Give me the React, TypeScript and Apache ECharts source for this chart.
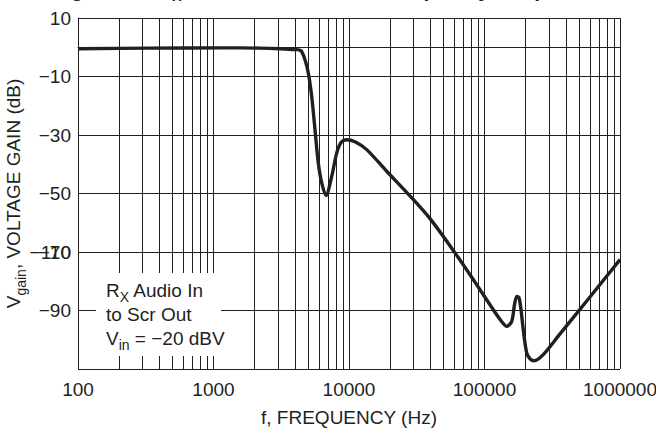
import React, { useEffect, useRef } from 'react';
import * as echarts from 'echarts';

const freqHz = [100, 340, 1117, 2204, 3096, 3995, 4423, 4734, 5008, 5305, 5612, 5934, 6289, 6766, 7451, 8114, 8730, 9617, 11075, 13507, 18975, 27389, 39620, 60580, 85100, 119500, 132400, 145900, 158800, 166500, 173000, 179700, 185900, 193300, 204800, 216700, 231900, 271500, 360700, 479000, 711900, 1000000];
const gainDb = [-0.5, -0.3, -0.2, -0.3, -0.5, -0.8, -1.2, -4.3, -8.8, -16.8, -28.2, -39.6, -46.4, -50.7, -44.2, -36.2, -32.6, -31.6, -32.3, -35.0, -42.4, -50.2, -58.6, -70.3, -80.3, -90.6, -93.5, -95.4, -93.7, -88.0, -85.2, -85.6, -89.7, -96.6, -104.5, -106.5, -107.2, -105.1, -98.0, -91.0, -81.1, -72.6];

const decadeStarts = [100, 1000, 10000, 100000];
const minorSteps = [2, 3, 4, 5, 6, 7, 8, 9];
const yTickMin = -110;
const yTickMax = 10;
const yTickStep = 20;

const FONT = '"Liberation Sans Narrow", "Arial Narrow", "Liberation Sans", Arial, sans-serif';
const INK = '#231f20';
const FS = 19;

export default function App() {
  const ref = useRef<HTMLDivElement>(null);
  useEffect(() => {
    const chart = echarts.init(ref.current!, null, { renderer: 'svg' });
    const data = freqHz.map((f, i) => [f, gainDb[i]]);
    const minorLines: any[] = [];
    decadeStarts.forEach((d) => minorSteps.forEach((m) => minorLines.push({ xAxis: d * m })));
    const fmtY = (v: number) => (v === yTickMin ? '' : String(v).replace('-', '\u2212'));
    chart.setOption({
      animation: false,
      textStyle: { fontFamily: FONT },
      grid: { left: 78, right: 36, top: 18, bottom: 62, containLabel: false, outerBoundsMode: 'none' },
      xAxis: {
        type: 'log',
        logBase: 10,
        min: 100,
        max: 1000000,
        name: 'f, FREQUENCY (Hz)',
        nameLocation: 'middle',
        nameGap: 39,
        nameTextStyle: { fontSize: FS, color: INK, fontFamily: FONT },
        axisLine: { show: true, lineStyle: { color: INK, width: 1 } },
        axisTick: { show: false },
        axisLabel: { fontSize: FS, color: INK, margin: 11, fontFamily: FONT, formatter: (v: number) => String(Math.round(v)) },
        splitLine: { show: true, lineStyle: { color: INK, width: 1 } },
      },
      yAxis: [
        {
          type: 'value',
          min: yTickMin,
          max: yTickMax,
          interval: yTickStep,
          position: 'left',
          name: '{n|V}{s|gain}{n|, VOLTAGE GAIN (dB)}',
          nameLocation: 'middle',
          nameGap: 46,
          nameTextStyle: {
            rich: {
              n: { fontSize: FS, color: INK, fontFamily: FONT, lineHeight: 24 },
              s: { fontSize: 14, color: INK, fontFamily: FONT, lineHeight: 10, padding: [14, 0, 0, 0] },
            },
          },
          axisLine: { show: true, lineStyle: { color: INK, width: 1 } },
          axisTick: { show: false },
          axisLabel: { fontSize: FS, color: INK, margin: 7, fontFamily: FONT, formatter: fmtY },
          splitLine: { show: true, lineStyle: { color: INK, width: 1 } },
        },
        {
          type: 'value',
          min: yTickMin,
          max: yTickMax,
          interval: yTickStep,
          position: 'left',
          offset: 0,
          axisLine: { show: false },
          axisTick: { show: false },
          splitLine: { show: false },
          axisLabel: { fontSize: FS, color: INK, margin: 7, fontFamily: FONT, formatter: (v: number) => (v === -70 ? '\u2212110' : '') },
        },
      ],
      series: [
        {
          type: 'line',
          data,
          showSymbol: false,
          lineStyle: { opacity: 0 },
          silent: true,
          z: 1,
          markLine: {
            silent: true,
            symbol: ['none', 'none'],
            label: { show: false },
            lineStyle: { color: INK, width: 1, type: 'solid' },
            data: minorLines,
          },
        },
        {
          type: 'line',
          data,
          showSymbol: false,
          smooth: 0.3,
          lineStyle: { color: INK, width: 3.4 },
          z: 5,
        },
      ],
      graphic: [
        {
          type: 'text',
          x: 52,
          y: 1,
          z: 101,
          style: {
            text: '{b|Figure 17. R}{bs|X}{b| Audio In to Scr Out Frequency Response}',
            textVerticalAlign: 'bottom',
            rich: {
              b: { fontSize: 21, fontWeight: 'bold', fontFamily: FONT, fill: INK, color: INK, lineHeight: 24 },
              bs: { fontSize: 14, fontWeight: 'bold', fontFamily: FONT, fill: INK, color: INK, lineHeight: 10, padding: [14, 0, 0, 0] },
            },
          },
        },
        {
          type: 'rect',
          z: 100,
          shape: { x: 96, y: 273, width: 125, height: 83 },
          style: { fill: '#ffffff' },
        },
        {
          type: 'text',
          x: 106,
          y: 278,
          z: 101,
          style: {
            text: '{n|R}{s|X}{n| Audio In}\n{n|to Scr Out}\n{n|V}{s|in}{n| = \u221220 dBV}',
            rich: {
              n: { fontSize: FS, fontFamily: FONT, fill: INK, color: INK, lineHeight: 24 },
              s: { fontSize: 14, fontFamily: FONT, fill: INK, color: INK, lineHeight: 10, padding: [14, 0, 0, 0] },
            },
          },
        },
      ],
    });
    return () => chart.dispose();
  }, []);
  return <div ref={ref} style={{ width: 656, height: 431, position: 'absolute', left: 0, top: 0, background: '#fff' }} />;
}
